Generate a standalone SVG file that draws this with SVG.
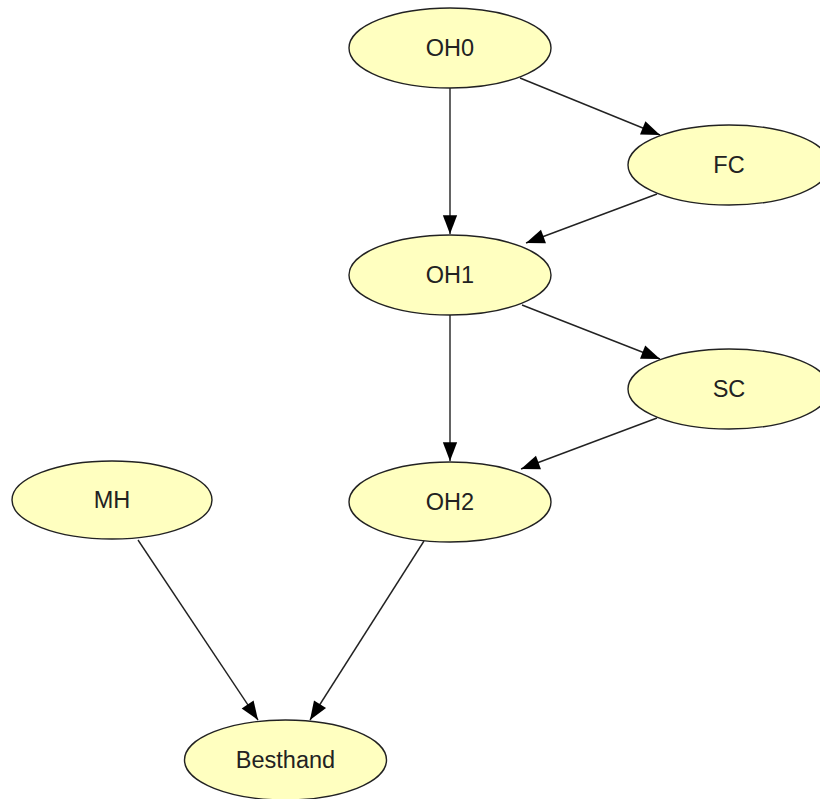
<svg xmlns="http://www.w3.org/2000/svg" width="820" height="799" viewBox="0 0 820 799">
<defs>
<style>
.node ellipse{fill:#ffffc0;stroke:#222;stroke-width:1.4}
.node text{font-family:"Liberation Sans",Arial,sans-serif;font-size:23.5px;fill:#222;text-anchor:middle;dominant-baseline:central}
.edges line{stroke:#222;stroke-width:1.4;marker-end:url(#ah)}
</style>
<marker id="ah" viewBox="0 0 10 10" refX="10" refY="5" markerWidth="11" markerHeight="11" markerUnits="userSpaceOnUse" orient="auto" overflow="visible">
<path d="M0,0 L10,5 L0,10 z" fill="#000" transform="scale(1.7,1.3) translate(-4.1,-1.15)"/>
</marker>
</defs>
<rect width="820" height="799" fill="#fff"/>
<g id="edges" class="edges">
<line x1="450" y1="88" x2="450" y2="234"/>
<line x1="520" y1="78" x2="660" y2="135"/>
<line x1="657" y1="194" x2="526" y2="243"/>
<line x1="450" y1="315" x2="450" y2="461"/>
<line x1="522" y1="305" x2="660" y2="359"/>
<line x1="657" y1="418" x2="521" y2="469"/>
<line x1="138" y1="540" x2="258" y2="720"/>
<line x1="424" y1="541" x2="310" y2="720"/>
</g>
<g id="OH0" class="node"><ellipse cx="450" cy="48" rx="101" ry="40"/><text x="450" y="48">OH0</text></g>
<g id="FC" class="node"><ellipse cx="729" cy="165" rx="101" ry="40"/><text x="729" y="165">FC</text></g>
<g id="OH1" class="node"><ellipse cx="450" cy="275" rx="101" ry="40"/><text x="450" y="275">OH1</text></g>
<g id="SC" class="node"><ellipse cx="729" cy="389" rx="101" ry="40"/><text x="729" y="389">SC</text></g>
<g id="MH" class="node"><ellipse cx="112" cy="500" rx="100" ry="39"/><text x="112" y="500">MH</text></g>
<g id="OH2" class="node"><ellipse cx="450" cy="502" rx="101" ry="40"/><text x="450" y="502">OH2</text></g>
<g id="Besthand" class="node"><ellipse cx="285.5" cy="760" rx="101" ry="40"/><text x="285.5" y="760">Besthand</text></g>
</svg>
